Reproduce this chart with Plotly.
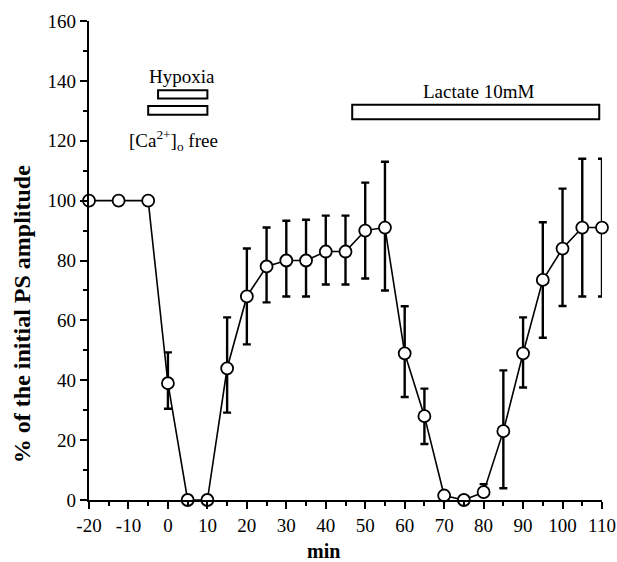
import numpy as np
import plotly.graph_objects as go

# ---- data ----
minutes = [-20, -12.5, -5, 0, 5, 10, 15, 20, 25, 30, 35, 40, 45, 50, 55,
           60, 65, 70, 75, 80, 85, 90, 95, 100, 105, 110]
amplitude = [100, 100, 100, 39, 0, 0, 44, 68, 78, 80, 80, 83, 83, 90, 91,
             49, 28, 1.5, 0, 2.6, 23, 49, 73.5, 84, 91, 91]
err_upper = [100, 100, 100, 49.3, 0, 0, 61, 84, 91, 93.3, 93.6, 95, 95, 106, 113,
             64.7, 37.2, 1.5, 0, 5.3, 43.3, 61, 92.8, 104, 114, 114]
err_lower = [100, 100, 100, 30.5, 0, 0, 29.2, 52, 66, 68, 68, 72, 72, 74, 70,
             34.4, 18.7, 1.5, 0, 2.6, 3.9, 37.6, 54.2, 64.8, 68, 68]

# treatment bars: x start, x end, y bottom, y top
bar_x0 = [-2.5, -5, 46.7]
bar_x1 = [10, 10, 109.3]
bar_y0 = [134.1, 128.7, 127.2]
bar_y1 = [136.9, 131.6, 132.0]

# bar labels and their anchor positions
label_text = ["Hypoxia", "[Ca<sup>2+</sup>]<sub>o</sub> free", "Lactate 10mM"]
label_x = [3.6, 1.5, 78.6]
label_y = [141.3, 120.0, 136.5]

x_ticks = [-20, -10, 0, 10, 20, 30, 40, 50, 60, 70, 80, 90, 100, 110]
y_ticks = [0, 20, 40, 60, 80, 100, 120, 140, 160]

y = np.array(amplitude)
plus = np.array(err_upper) - y
minus = y - np.array(err_lower)

FONT = "Liberation Serif"

fig = go.Figure()
fig.add_trace(go.Scatter(
    x=minutes, y=amplitude, mode="lines+markers",
    line=dict(color="black", width=1.6),
    marker=dict(size=12, color="white", line=dict(color="black", width=1.8)),
    error_y=dict(type="data", symmetric=False, array=plus, arrayminus=minus,
                 color="black", thickness=2.4, width=4),
    cliponaxis=False, showlegend=False,
))

for x0, x1, y0, y1 in zip(bar_x0, bar_x1, bar_y0, bar_y1):
    fig.add_shape(type="rect", xref="x", yref="y", x0=x0, x1=x1, y0=y0, y1=y1,
                  fillcolor="white", line=dict(color="black", width=2))

for t, lx, ly in zip(label_text, label_x, label_y):
    fig.add_annotation(x=lx, y=ly, text=t, showarrow=False,
                       font=dict(family=FONT, size=19, color="black"))

# axis titles (placed as in the reference)
fig.add_annotation(xref="paper", yref="paper", x=-0.1306, y=0.388,
                   text="% of the initial PS amplitude", textangle=-90, showarrow=False,
                   xanchor="center", yanchor="middle",
                   font=dict(family=FONT, size=24, color="black", weight="bold"))
fig.add_annotation(xref="x", yref="paper", x=39.5, y=-0.106,
                   text="min", showarrow=False, xanchor="center", yanchor="middle",
                   font=dict(family=FONT, size=20, color="black", weight="bold"))

fig.update_xaxes(
    range=[-20, 110], tickvals=x_ticks, ticktext=[str(v) for v in x_ticks],
    showline=True, linecolor="black", linewidth=2.2, showgrid=False, zeroline=False,
    ticks="outside", ticklen=7, tickwidth=2, tickcolor="black",
    minor=dict(dtick=5, tick0=0, ticks="outside", ticklen=4, tickwidth=2, tickcolor="black"),
    tickfont=dict(family=FONT, size=19, color="black"),
)
fig.update_yaxes(
    range=[0, 160], tickvals=y_ticks, ticktext=[str(v) for v in y_ticks],
    showline=True, linecolor="black", linewidth=2.2, showgrid=False, zeroline=False,
    ticks="outside", ticklen=7, tickwidth=2, tickcolor="black",
    minor=dict(dtick=10, tick0=0, ticks="outside", ticklen=4, tickwidth=2, tickcolor="black"),
    tickfont=dict(family=FONT, size=19, color="black"),
)

fig.update_layout(
    width=617, height=562,
    margin=dict(l=89, r=15, t=21, b=62, autoexpand=False),
    paper_bgcolor="white", plot_bgcolor="white",
)

fig.write_html(
    "out.html",
    config={"displayModeBar": False},
    post_script="document.body.style.margin='0';document.body.style.overflow='hidden';",
)
